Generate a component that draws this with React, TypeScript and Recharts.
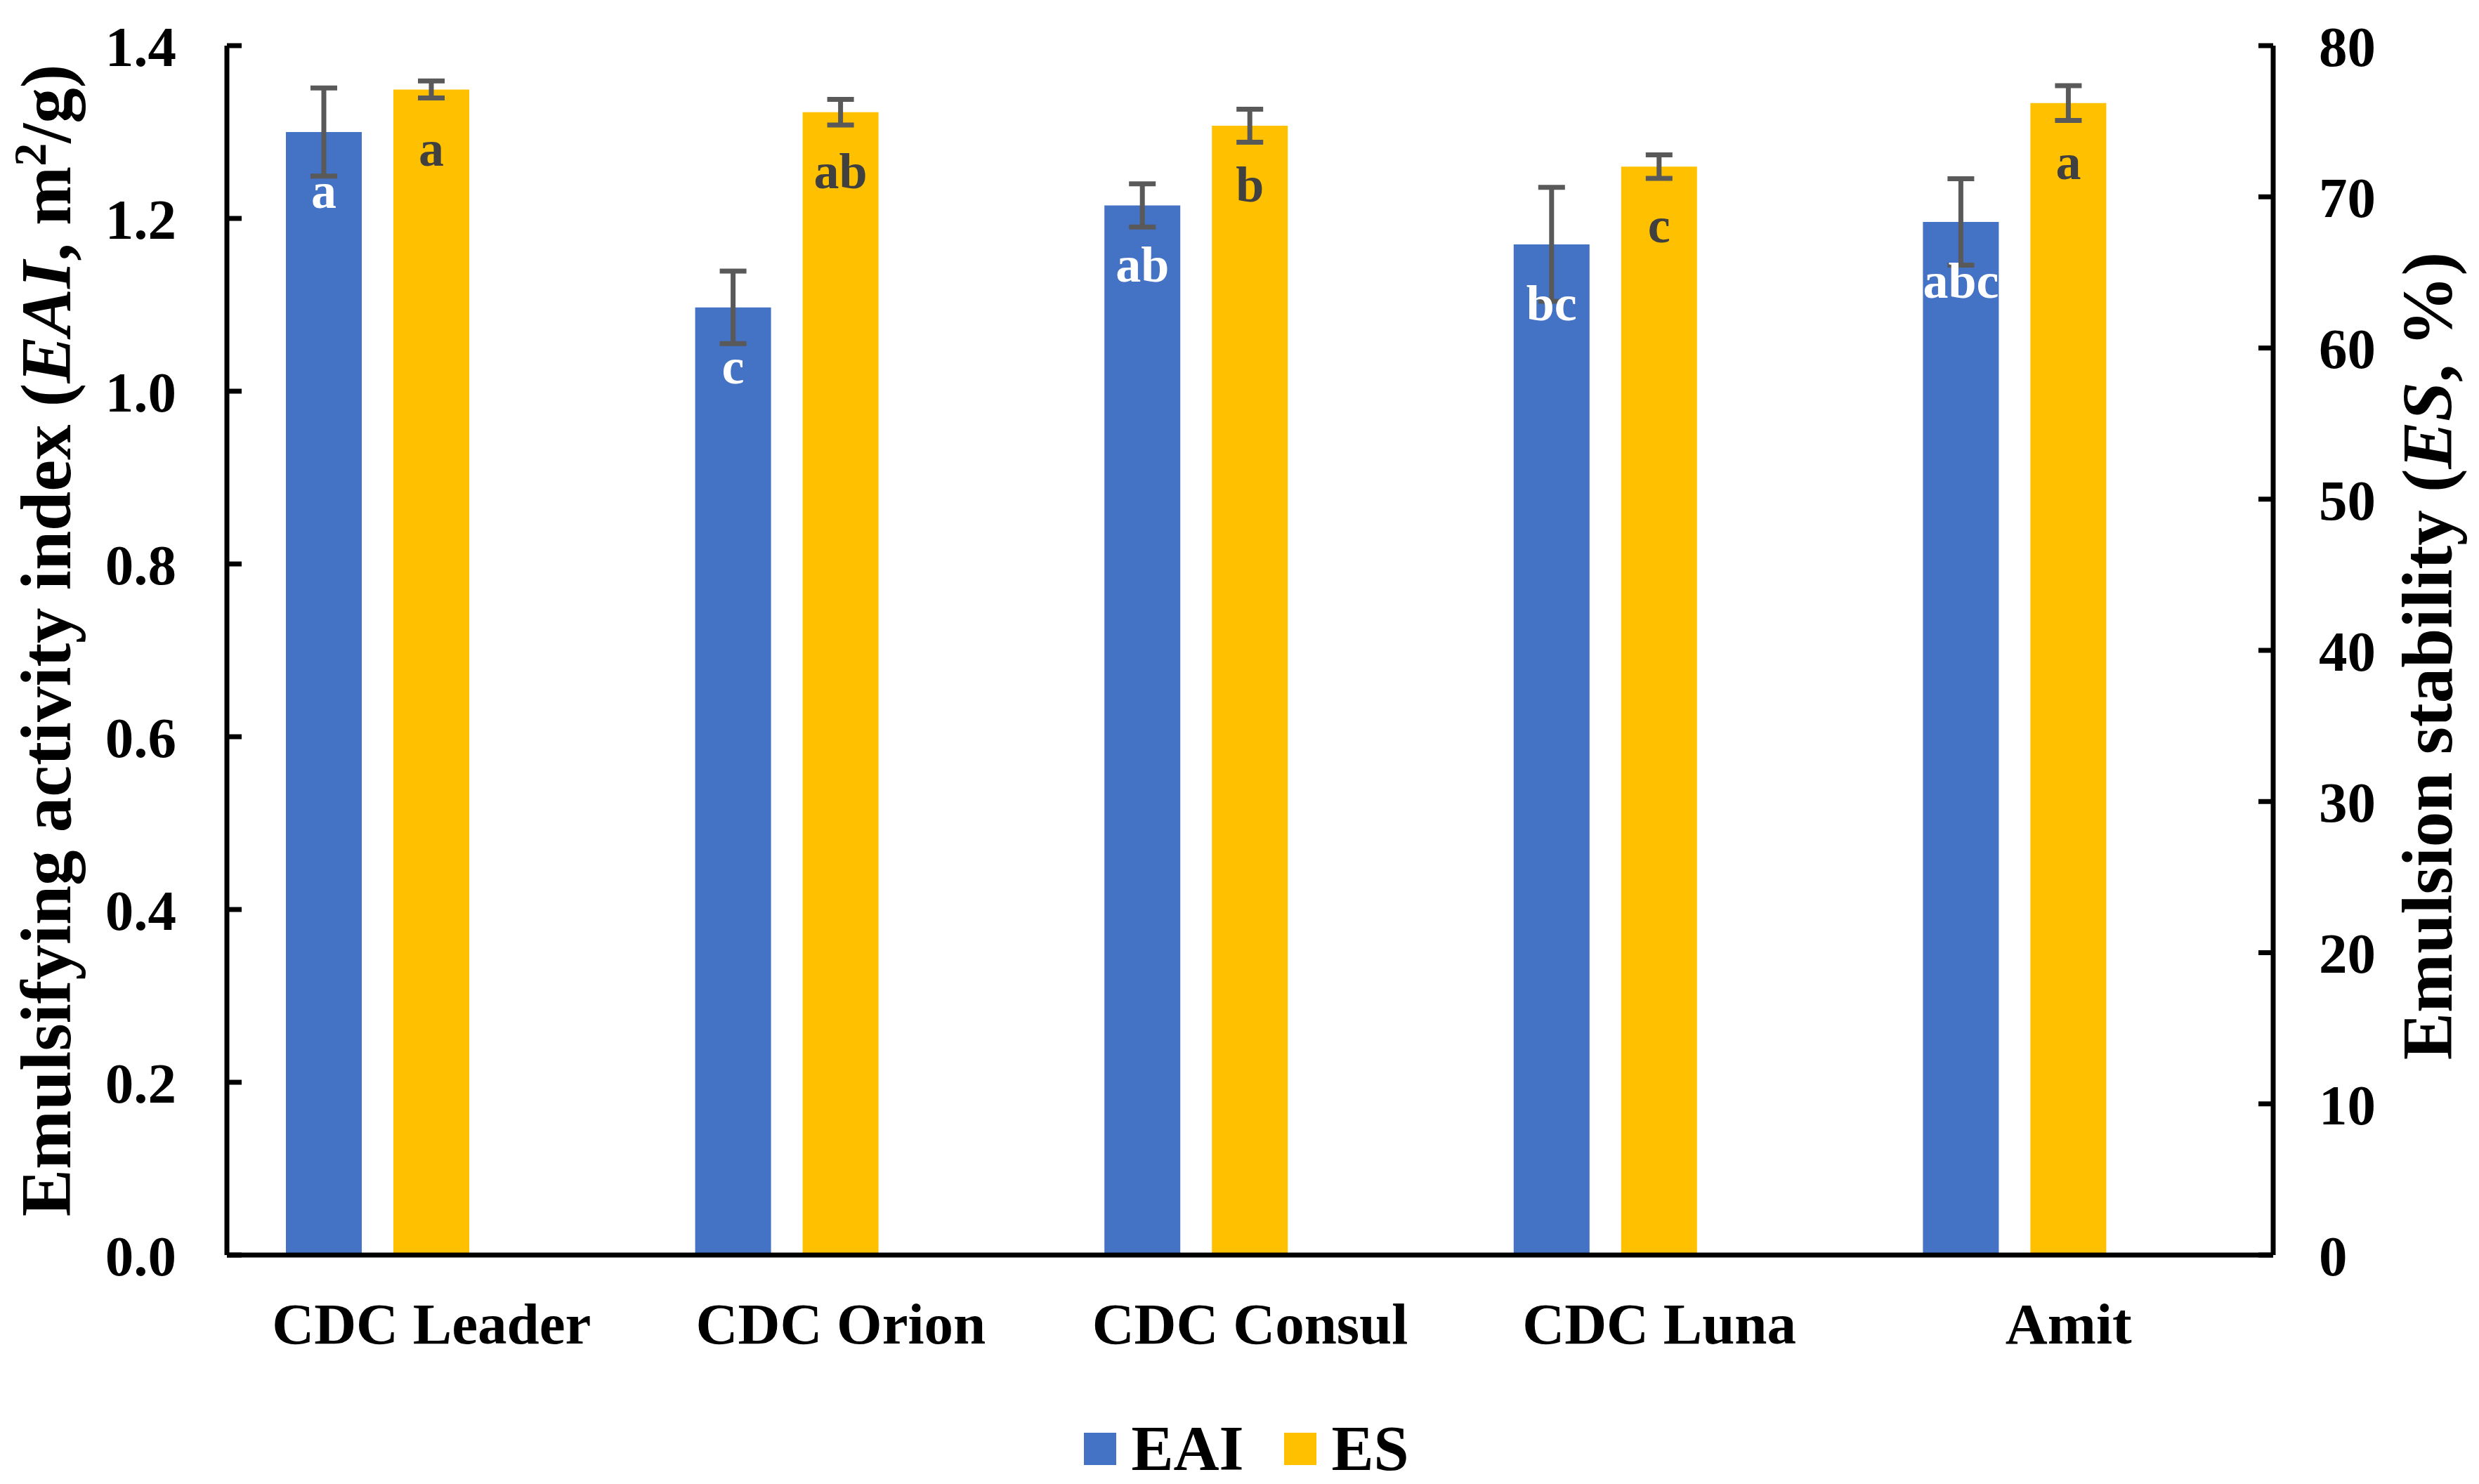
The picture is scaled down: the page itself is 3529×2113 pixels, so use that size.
import React from "react";
import {
  BarChart,
  Bar,
  XAxis,
  YAxis,
  Legend,
  ErrorBar,
  LabelList,
} from "recharts";

const FONT = "'Liberation Serif', 'Times New Roman', serif";
const BLUE = "#4472C4";
const GOLD = "#FFC000";
const ERR = "#595959";

const categories = ["CDC Leader", "CDC Orion", "CDC Consul", "CDC Luna", "Amit"];
const eaiValues = [1.3, 1.097, 1.215, 1.17, 1.196];
const eaiErrors = [0.051, 0.042, 0.025, 0.066, 0.05];
const eaiLetters = ["a", "c", "ab", "bc", "abc"];
const esValues = [77.1, 75.6, 74.7, 72.0, 76.2];
const esErrors = [0.56, 0.85, 1.09, 0.78, 1.15];
const esLetters = ["a", "ab", "b", "c", "a"];
const leftTicks = [0, 0.2, 0.4, 0.6, 0.8, 1.0, 1.2, 1.4];
const rightTicks = [0, 10, 20, 30, 40, 50, 60, 70, 80];

const rows = categories.map((name, i) => ({
  name,
  eai: eaiValues[i],
  eaiErr: eaiErrors[i],
  eaiLetter: eaiLetters[i],
  es: esValues[i],
  esErr: esErrors[i],
  esLetter: esLetters[i],
}));

const tickStyle = { fill: "#000", fontSize: 81, fontWeight: "bold", fontFamily: FONT };
const xTickStyle = { ...tickStyle, fontSize: 83 };

const LeftTitle = ({ viewBox }: any) => {
  const cx = viewBox.x + 100;
  const cy = viewBox.y + viewBox.height / 2 - 14;
  return (
    <text
      x={cx}
      y={cy}
      transform={`rotate(-90, ${cx}, ${cy})`}
      textAnchor="middle"
      fontSize={101}
      fontWeight="bold"
      fontFamily={FONT}
      fill="#000"
    >
      <tspan>Emulsifying activity index (</tspan>
      <tspan fontStyle="italic">EAI</tspan>
      <tspan>, m</tspan>
      <tspan dy={-35} fontSize={66}>2</tspan>
      <tspan dy={35}>/g)</tspan>
    </text>
  );
};

const RightTitle = ({ viewBox }: any) => {
  const cx = viewBox.x + 254;
  const cy = viewBox.y + viewBox.height / 2 + 8;
  return (
    <text
      x={cx}
      y={cy}
      transform={`rotate(-90, ${cx}, ${cy})`}
      textAnchor="middle"
      fontSize={101}
      fontWeight="bold"
      fontFamily={FONT}
      fill="#000"
    >
      <tspan>Emulsion stability (</tspan>
      <tspan fontStyle="italic">ES</tspan>
      <tspan>, %)</tspan>
    </text>
  );
};

const LegendBox = ({ payload }: any) => (
  <div
    style={{
      height: 100,
      display: "flex",
      justifyContent: "center",
      alignItems: "center",
      paddingLeft: 20,
      fontFamily: FONT,
      fontWeight: "bold",
      fontSize: 90,
      lineHeight: 1,
      color: "#000",
    }}
  >
    {(payload || [])
      .filter((p: any) => p.type !== "none")
      .map((p: any, i: number) => (
        <div
          key={i}
          style={{ display: "flex", alignItems: "center", marginLeft: i ? 58 : 0 }}
        >
          <div style={{ width: 46, height: 46, background: p.color, marginRight: 21 }} />
          <span>{p.value}</span>
        </div>
      ))}
  </div>
);

export default function App() {
  return (
    <div
      style={{
        position: "absolute",
        left: 0,
        top: 0,
        width: 3529,
        height: 2113,
        background: "#fff",
      }}
    >
      <BarChart
        width={3529}
        height={2113}
        data={rows}
        margin={{ top: 65, right: 0, bottom: 0, left: 0 }}
        barSize={108}
        barGap={45}
      >
        <XAxis
          dataKey="name"
          interval={0}
          height={226}
          tickLine={false}
          tickSize={0}
          tickMargin={67}
          axisLine={{ stroke: "#000", strokeWidth: 7 }}
          tick={xTickStyle}
        />
        <YAxis
          yAxisId="left"
          orientation="left"
          width={323}
          domain={[0, 1.4]}
          ticks={leftTicks}
          interval={0}
          tickFormatter={(v: number) => v.toFixed(1)}
          tickSize={-21}
          tickMargin={93}
          axisLine={{ stroke: "#000", strokeWidth: 7 }}
          tickLine={{ stroke: "#000", strokeWidth: 7 }}
          tick={tickStyle}
          label={{ content: (p: any) => <LeftTitle viewBox={p.viewBox} /> }}
        />
        <YAxis
          yAxisId="right"
          orientation="right"
          width={293}
          domain={[0, 80]}
          ticks={rightTicks}
          interval={0}
          tickSize={-21}
          tickMargin={86}
          axisLine={{ stroke: "#000", strokeWidth: 7 }}
          tickLine={{ stroke: "#000", strokeWidth: 7 }}
          tick={tickStyle}
          label={{ content: (p: any) => <RightTitle viewBox={p.viewBox} /> }}
        />
        <Legend verticalAlign="bottom" height={100} content={<LegendBox />} />
        <Bar yAxisId="left" dataKey="eai" name="EAI" fill={BLUE} isAnimationActive={false}>
          <ErrorBar dataKey="eaiErr" direction="y" width={19} strokeWidth={7} stroke={ERR} />
          <LabelList
            dataKey="eaiLetter"
            position="insideTop"
            offset={57}
            fill="#fff"
            fontSize={72}
            fontWeight="bold"
            fontFamily={FONT}
          />
        </Bar>
        <Bar yAxisId="right" dataKey="es" name="ES" fill={GOLD} isAnimationActive={false}>
          <ErrorBar dataKey="esErr" direction="y" width={19} strokeWidth={7} stroke={ERR} />
          <LabelList
            dataKey="esLetter"
            position="insideTop"
            offset={57}
            fill="#404040"
            fontSize={72}
            fontWeight="bold"
            fontFamily={FONT}
          />
        </Bar>
        <Bar
          yAxisId="left"
          dataKey="spacer"
          legendType="none"
          fill="none"
          isAnimationActive={false}
        />
      </BarChart>
    </div>
  );
}
